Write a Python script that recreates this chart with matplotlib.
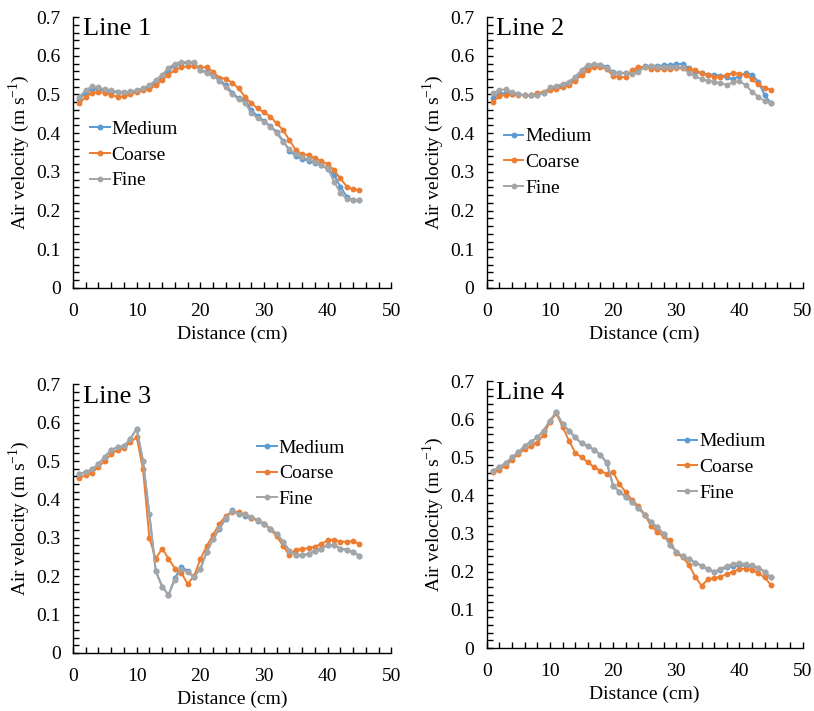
import matplotlib
matplotlib.use("Agg")
import matplotlib.pyplot as plt
from matplotlib.ticker import MultipleLocator

plt.rcParams["font.family"] = ["Liberation Serif", "DejaVu Serif"]
plt.rcParams["mathtext.fontset"] = "custom"
plt.rcParams["mathtext.rm"] = "Liberation Serif"

# distance along each line (cm)
distance = list(range(1, 46))

# Line 1
line1_medium = [0.487, 0.505, 0.514, 0.513, 0.510, 0.507, 0.506, 0.505, 0.507, 0.510,
                0.514, 0.520, 0.530, 0.544, 0.562, 0.575, 0.580, 0.582, 0.582, 0.562,
                0.559, 0.550, 0.539, 0.524, 0.505, 0.490, 0.486, 0.460, 0.444, 0.432,
                0.418, 0.404, 0.380, 0.355, 0.340, 0.334, 0.329, 0.324, 0.318, 0.307,
                0.292, 0.262, 0.236, 0.226, 0.226]
line1_coarse = [0.477, 0.494, 0.505, 0.506, 0.504, 0.499, 0.494, 0.495, 0.500, 0.506,
                0.511, 0.513, 0.524, 0.538, 0.551, 0.563, 0.570, 0.573, 0.573, 0.570,
                0.570, 0.559, 0.543, 0.541, 0.530, 0.516, 0.494, 0.477, 0.464, 0.454,
                0.443, 0.425, 0.408, 0.382, 0.356, 0.346, 0.343, 0.335, 0.328, 0.320,
                0.305, 0.283, 0.262, 0.255, 0.252]
line1_fine = [0.494, 0.511, 0.521, 0.518, 0.513, 0.511, 0.507, 0.506, 0.508, 0.511,
              0.517, 0.524, 0.537, 0.551, 0.568, 0.580, 0.584, 0.584, 0.584, 0.562,
              0.555, 0.548, 0.536, 0.518, 0.501, 0.487, 0.479, 0.453, 0.438, 0.430,
              0.417, 0.400, 0.378, 0.358, 0.346, 0.339, 0.332, 0.326, 0.319, 0.309,
              0.275, 0.246, 0.230, 0.228, 0.226]

# Line 2
line2_medium = [0.490, 0.503, 0.503, 0.501, 0.500, 0.498, 0.498, 0.498, 0.505, 0.513,
                0.518, 0.523, 0.529, 0.539, 0.555, 0.572, 0.577, 0.577, 0.572, 0.557,
                0.556, 0.556, 0.555, 0.563, 0.574, 0.574, 0.574, 0.575, 0.576, 0.578,
                0.579, 0.568, 0.558, 0.555, 0.551, 0.551, 0.548, 0.544, 0.539, 0.548,
                0.555, 0.551, 0.533, 0.498, 0.477]
line2_coarse = [0.481, 0.496, 0.499, 0.500, 0.499, 0.498, 0.498, 0.503, 0.507, 0.512,
                0.514, 0.518, 0.524, 0.536, 0.550, 0.563, 0.570, 0.572, 0.565, 0.548,
                0.546, 0.544, 0.562, 0.572, 0.570, 0.567, 0.566, 0.566, 0.567, 0.568,
                0.568, 0.565, 0.562, 0.556, 0.550, 0.546, 0.546, 0.551, 0.555, 0.554,
                0.551, 0.539, 0.526, 0.517, 0.512]
line2_fine = [0.503, 0.512, 0.513, 0.507, 0.501, 0.498, 0.498, 0.498, 0.505, 0.518,
              0.522, 0.527, 0.533, 0.546, 0.563, 0.577, 0.578, 0.577, 0.568, 0.556,
              0.556, 0.555, 0.552, 0.558, 0.572, 0.574, 0.572, 0.572, 0.572, 0.572,
              0.570, 0.555, 0.548, 0.539, 0.536, 0.533, 0.529, 0.525, 0.532, 0.534,
              0.524, 0.507, 0.494, 0.483, 0.477]

# Line 3
line3_medium = [0.465, 0.472, 0.478, 0.492, 0.511, 0.529, 0.536, 0.538, 0.558, 0.584,
                0.499, 0.361, 0.213, 0.173, 0.151, 0.195, 0.225, 0.214, 0.198, 0.219,
                0.263, 0.297, 0.323, 0.350, 0.372, 0.362, 0.358, 0.352, 0.345, 0.336,
                0.324, 0.310, 0.290, 0.266, 0.255, 0.255, 0.258, 0.266, 0.272, 0.281,
                0.281, 0.272, 0.269, 0.263, 0.253]
line3_coarse = [0.456, 0.463, 0.469, 0.485, 0.500, 0.518, 0.529, 0.534, 0.549, 0.562,
                0.478, 0.299, 0.246, 0.272, 0.246, 0.220, 0.209, 0.180, 0.200, 0.244,
                0.278, 0.308, 0.336, 0.357, 0.368, 0.366, 0.361, 0.352, 0.346, 0.337,
                0.322, 0.304, 0.279, 0.255, 0.269, 0.271, 0.273, 0.277, 0.284, 0.293,
                0.295, 0.290, 0.290, 0.292, 0.283]
line3_fine = [0.465, 0.472, 0.478, 0.492, 0.511, 0.529, 0.536, 0.538, 0.558, 0.584,
              0.499, 0.361, 0.213, 0.173, 0.151, 0.191, 0.219, 0.210, 0.198, 0.219,
              0.263, 0.297, 0.325, 0.352, 0.370, 0.362, 0.361, 0.354, 0.347, 0.337,
              0.324, 0.310, 0.290, 0.266, 0.255, 0.255, 0.258, 0.266, 0.272, 0.281,
              0.281, 0.272, 0.269, 0.263, 0.253]

# Line 4
line4_medium = [0.465, 0.474, 0.485, 0.500, 0.513, 0.530, 0.541, 0.552, 0.570, 0.596,
                0.618, 0.587, 0.570, 0.552, 0.537, 0.529, 0.520, 0.506, 0.485, 0.426,
                0.409, 0.396, 0.383, 0.367, 0.349, 0.330, 0.317, 0.299, 0.270, 0.253,
                0.240, 0.233, 0.224, 0.216, 0.207, 0.200, 0.205, 0.212, 0.215, 0.217,
                0.216, 0.215, 0.210, 0.200, 0.185]
line4_coarse = [0.461, 0.467, 0.478, 0.494, 0.509, 0.521, 0.529, 0.538, 0.559, 0.593,
                0.615, 0.580, 0.544, 0.512, 0.500, 0.487, 0.474, 0.465, 0.456, 0.461,
                0.430, 0.409, 0.388, 0.372, 0.350, 0.321, 0.304, 0.293, 0.282, 0.249,
                0.238, 0.218, 0.187, 0.163, 0.180, 0.183, 0.187, 0.194, 0.200, 0.207,
                0.208, 0.205, 0.196, 0.185, 0.165]
line4_fine = [0.465, 0.474, 0.485, 0.500, 0.513, 0.530, 0.541, 0.552, 0.570, 0.596,
              0.618, 0.587, 0.570, 0.552, 0.537, 0.529, 0.520, 0.506, 0.487, 0.426,
              0.409, 0.396, 0.383, 0.367, 0.349, 0.330, 0.317, 0.299, 0.270, 0.253,
              0.240, 0.233, 0.224, 0.216, 0.207, 0.200, 0.207, 0.216, 0.220, 0.223,
              0.220, 0.217, 0.211, 0.200, 0.185]

series_names = ["Medium", "Coarse", "Fine"]
series_colors = ["#5B9BD5", "#ED7D31", "#A5A5A5"]

panels = [
    ("Line 1", [line1_medium, line1_coarse, line1_fine], [0.0897, 0.595, 0.391, 0.381], (0.03, 0.648)),
    ("Line 2", [line2_medium, line2_coarse, line2_fine], [0.598, 0.595, 0.388, 0.381], (0.03, 0.62)),
    ("Line 3", [line3_medium, line3_coarse, line3_fine], [0.0897, 0.0816, 0.391, 0.378], (0.555, 0.825)),
    ("Line 4", [line4_medium, line4_coarse, line4_fine], [0.598, 0.0886, 0.388, 0.3755], (0.58, 0.835)),
]

fig = plt.figure(figsize=(8.14, 7.11), dpi=100)

for title, data, rect, leg_pos in panels:
    ax = fig.add_axes(rect)
    for values, name, color in zip(data, series_names, series_colors):
        ax.plot(distance, values, color=color, lw=1.4, marker="o", ms=3.2,
                label=name)
    ax.set_xlim(0, 50)
    ax.set_ylim(0, 0.7)
    ax.xaxis.set_major_locator(MultipleLocator(10))
    ax.xaxis.set_minor_locator(MultipleLocator(2))
    ax.yaxis.set_minor_locator(MultipleLocator(0.02))
    ax.set_yticks([0, 0.1, 0.2, 0.3, 0.4, 0.5, 0.6, 0.7])
    ax.set_yticklabels(["0", "0.1", "0.2", "0.3", "0.4", "0.5", "0.6", "0.7"])
    ax.tick_params(which="both", direction="in", length=4, width=1.0,
                   labelsize=14)
    ax.tick_params(axis="x", pad=11)
    ax.tick_params(axis="y", pad=9)
    ax.spines["top"].set_visible(False)
    ax.spines["right"].set_visible(False)
    ax.spines["left"].set_linewidth(1.0)
    ax.spines["bottom"].set_linewidth(1.0)
    ax.set_xlabel("Distance (cm)", fontsize=14, labelpad=4)
    ax.set_ylabel(r"Air velocity (m s$^{\mathregular{-1}}$)", fontsize=14, labelpad=3)
    ax.text(0.03, 0.995, title, transform=ax.transAxes, fontsize=19,
            va="top", ha="left")
    ax.legend(loc="upper left", bbox_to_anchor=leg_pos, frameon=False,
              fontsize=14, handlelength=1.0, handletextpad=0.1,
              labelspacing=0.42, borderaxespad=0)

fig.savefig("out.png", dpi=100)
